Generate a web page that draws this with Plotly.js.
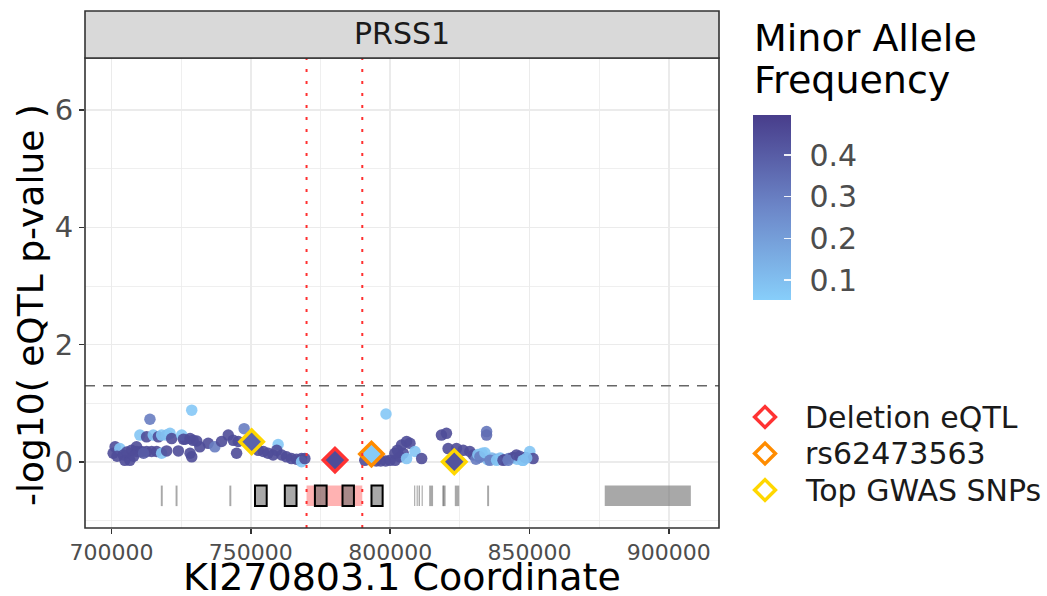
<!DOCTYPE html>
<html>
<head>
<meta charset="utf-8">
<script src="https://cdn.plot.ly/plotly-3.0.1.min.js"></script>
<style>
html,body{margin:0;padding:0;background:#fff;}
#chart{width:1047px;height:596px;}
</style>
</head>
<body>
<div id="chart"></div>
<script>
// ---------------- DATA ----------------
const geneName = "PRSS1";
const snpPos = [700600,701300,703000,704200,704800,706600,707200,709000,709000,710800,
  712600,714400,716200,718000,719800,724000,728200,728800,726400,729300,
  731700,734700,710200,712600,715000,716800,718000,719800,721000,721600,
  725200,725800,728200,730600,713800,728800,702000,705500,708000,711500,
  737100,739500,741900,743700,745500,747600,744900,752700,754500,756200,
  758000,759800,759300,761100,762800,764600,766400,768200,768200,769400,
  790900,795000,796600,798400,800000,801800,803500,804100,804700,805900,
  807100,805900,808900,811300,798500,802600,801700,
  818400,820200,820800,823800,826200,828600,829800,834600,834600,832000,
  833000,835000,836500,838000,839500,841000,842500,844000,845500,846500,
  847500,848500,850100,851300,830800,831500,832200,834000,835800,838200,
  840500,842300,845300,847700,849000];
const snpLogP = [0.15,0.26,0.23,0.12,0.03,0.03,0.20,0.26,0.18,0.18,
  0.18,0.18,0.18,0.15,0.19,0.19,0.15,0.09,0.39,0.37,
  0.26,0.32,0.46,0.43,0.46,0.43,0.46,0.46,0.49,0.40,
  0.46,0.39,0.40,0.36,0.73,0.885,0.10,0.17,0.10,0.15,
  0.26,0.35,0.46,0.37,0.35,0.57,0.15,0.20,0.18,0.15,
  0.12,0.30,0.20,0.12,0.09,0.06,0.05,0.06,0.005,0.06,
  0.03,0.02,0.02,0.02,0.03,0.03,0.09,0.29,0.15,0.35,
  0.32,0.06,0.18,0.06,0.82,0.20,0.15,
  0.46,0.49,0.23,0.23,0.20,0.18,0.12,0.52,0.46,0.08,
  0.15,0.04,0.07,0.05,0.07,0.04,0.06,0.08,0.05,0.10,
  0.03,0.08,0.18,0.06,0.05,0.13,0.09,0.16,0.03,0.03,
  0.03,0.03,0.12,0.03,0.07];
const snpMAF = [0.45,0.45,0.08,0.45,0.45,0.45,0.45,0.45,0.45,0.45,
  0.45,0.45,0.45,0.08,0.45,0.45,0.45,0.45,0.45,0.45,
  0.45,0.45,0.08,0.45,0.08,0.45,0.08,0.10,0.08,0.45,
  0.08,0.45,0.45,0.45,0.30,0.07,0.45,0.45,0.45,0.40,
  0.30,0.45,0.45,0.45,0.45,0.30,0.45,0.45,0.45,0.45,
  0.45,0.07,0.45,0.45,0.45,0.45,0.45,0.45,0.07,0.45,
  0.45,0.45,0.45,0.45,0.45,0.45,0.45,0.45,0.45,0.45,
  0.45,0.08,0.08,0.45,0.07,0.45,0.45,
  0.45,0.45,0.45,0.45,0.45,0.45,0.45,0.32,0.35,0.20,
  0.08,0.10,0.12,0.15,0.10,0.45,0.30,0.45,0.08,0.40,
  0.10,0.45,0.08,0.45,0.30,0.08,0.30,0.08,0.30,0.08,
  0.45,0.30,0.45,0.08,0.10];

const delPos = [780200], delLogP = [0.034], delMAF = [0.45];
const rsPos = [793300], rsLogP = [0.136], rsMAF = [0.06];
const gwasPos = [750300, 823000], gwasLogP = [0.346, 0.005], gwasMAF = [0.38, 0.43];

const pThreshold = 1.30103;               // -log10(0.05)
const deletionStart = 770000, deletionEnd = 790000;
const trackLow = -0.75, trackHigh = -0.4;
const boxedGeneStart = [751500, 762200, 773000, 782900, 793300];
const boxedGeneEnd   = [755700, 766400, 777200, 787000, 797300];
const otherGeneStart = [717700, 723000, 742300, 808600, 809500, 810200, 811300, 814000, 818700, 819000, 823200, 834800, 877000];
const otherGeneEnd   = [718400, 723700, 743000, 809000, 809900, 810700, 811700, 815400, 819400, 819900, 824800, 835500, 907900];

const xTicks = [700000, 750000, 800000, 850000, 900000];
const yTicks = [0, 2, 4, 6];
const mafTicks = [0.1, 0.2, 0.3, 0.4];
const legendNames = ["Deletion eQTL", "rs62473563", "Top GWAS SNPs"];
const legendColors = ["#FF3333", "#FF8C00", "#FFD700"];

// ---------------- LAYOUT GEOMETRY (pixels) ----------------
const W = 1047, H = 596;
const panel = {l: 85, r: 719, t: 58, b: 528};
const px = v => v / W;                 // pixel x -> paper
const py = v => (H - v) / H;           // pixel y -> paper
const FONT = "DejaVu Sans, Liberation Sans, sans-serif";
const cscale = [[0, "#87CEFA"], [0.5, "#6C86C8"], [1, "#483D8B"]];
const cmin = 0.052, cmax = 0.496;

const traces = [];
traces.push({
  type: "scatter", mode: "markers", x: snpPos, y: snpLogP, showlegend: false,
  hoverinfo: "skip", xaxis: "x", yaxis: "y",
  marker: {
    size: 11.5, color: snpMAF, colorscale: cscale, cmin: cmin, cmax: cmax, opacity: 0.9,
    line: {width: 0},
    showscale: true,
    colorbar: {
      x: px(753), xanchor: "left", xref: "paper", xpad: 0, ypad: 0,
      y: py(207.5), yanchor: "middle", yref: "paper",
      thickness: 38, thicknessmode: "pixels", len: 185, lenmode: "pixels",
      outlinewidth: 0, tickvals: mafTicks, ticktext: mafTicks.map(v => "\u2009\u2009" + v.toFixed(1)),
      ticks: "inside", ticklen: 7, tickcolor: "rgba(255,255,255,0.9)", tickwidth: 1.2,
      tickfont: {family: FONT, size: 30, color: "#4D4D4D"},
      title: {text: ""}
    }
  }
});

legendNames.forEach((name, i) => {
  const h = [
    {x: delPos, y: delLogP, m: delMAF},
    {x: rsPos, y: rsLogP, m: rsMAF},
    {x: gwasPos, y: gwasLogP, m: gwasMAF}
  ][i];
  traces.push({
    type: "scatter", mode: "markers", x: h.x, y: h.y, showlegend: false, hoverinfo: "skip",
    name: name, xaxis: "x", yaxis: "y",
    marker: {symbol: "diamond", size: 18, color: h.m, colorscale: cscale, cmin: cmin, cmax: cmax,
      line: {color: legendColors[i], width: 3.5}}
  });
});

// manual legend keys on an invisible pixel-space axis pair
const legendKeyX = 765, legendFirstY = 417, legendStep = 36.5, legendTextX = 805;
traces.push({
  type: "scatter", mode: "markers", xaxis: "x2", yaxis: "y2", showlegend: false, hoverinfo: "skip",
  x: legendNames.map(() => legendKeyX), y: legendNames.map((_, i) => legendFirstY + i * legendStep),
  marker: {symbol: "diamond-open", size: 16, color: legendColors, line: {color: legendColors, width: 3.5}},
  cliponaxis: false
});

const shapes = [];
otherGeneStart.forEach((s, i) => shapes.push({
  type: "rect", xref: "x", yref: "y", x0: s, x1: otherGeneEnd[i], y0: trackLow, y1: trackHigh,
  fillcolor: "rgba(110,110,110,0.6)", line: {width: 0}, layer: "above"
}));
shapes.push({type: "rect", xref: "x", yref: "y", x0: deletionStart, x1: deletionEnd, y0: trackLow, y1: trackHigh,
  fillcolor: "rgba(255,0,0,0.3)", line: {width: 0}, layer: "above"});
boxedGeneStart.forEach((s, i) => shapes.push({
  type: "rect", xref: "x", yref: "y", x0: s, x1: boxedGeneEnd[i], y0: trackLow, y1: trackHigh,
  fillcolor: "rgba(110,110,110,0.6)", line: {width: 2, color: "#000"}, layer: "above"
}));
shapes.push({type: "line", xref: "x domain", yref: "y", x0: 0, x1: 1, y0: pThreshold, y1: pThreshold,
  line: {color: "#666666", width: 1.6, dash: "10px,8px"}, layer: "above"});
[deletionStart, deletionEnd].forEach(v => shapes.push({type: "line", xref: "x", yref: "y domain", x0: v, x1: v, y0: 0, y1: 1,
  line: {color: "#FF3030", width: 2, dash: "3px,9px"}, layer: "above"}));
shapes.push({type: "rect", xref: "x domain", yref: "y domain", x0: 0, x1: 1, y0: 0, y1: 1,
  line: {color: "#333333", width: 1.6}, fillcolor: "rgba(0,0,0,0)", layer: "above"});
shapes.push({type: "rect", xref: "x domain", yref: "y domain", x0: 0, x1: 1, y0: 1, y1: 1 + 47 / (panel.b - panel.t),
  line: {color: "#333333", width: 1.6}, fillcolor: "#D9D9D9", layer: "above"});

const annotations = [
  {text: geneName, xref: "paper", yref: "paper", x: px((panel.l + panel.r) / 2), y: py(34), xanchor: "center", yanchor: "middle",
    showarrow: false, font: {family: FONT, size: 30, color: "#1A1A1A"}},
  {text: "-log10( eQTL p-value )", xref: "paper", yref: "paper", x: px(30), y: py(305),
    xanchor: "center", yanchor: "middle", textangle: -90, showarrow: false,
    font: {family: FONT, size: 36, color: "#000"}},
  {text: "KI270803.1 Coordinate", xref: "paper", yref: "paper", x: px(402), y: py(577),
    xanchor: "center", yanchor: "middle", showarrow: false, font: {family: FONT, size: 38, color: "#000"}},
  {text: "Minor Allele", xref: "paper", yref: "paper", x: px(752), y: py(38),
    xanchor: "left", yanchor: "middle", showarrow: false, font: {family: FONT, size: 38, color: "#000"}},
  {text: "Frequency", xref: "paper", yref: "paper", x: px(752), y: py(80),
    xanchor: "left", yanchor: "middle", showarrow: false, font: {family: FONT, size: 38, color: "#000"}}
];
legendNames.forEach((name, i) => annotations.push({
  text: name, xref: "paper", yref: "paper", x: px(legendTextX - 2), y: py(legendFirstY + i * legendStep),
  xanchor: "left", yanchor: "middle", showarrow: false, font: {family: FONT, size: 30, color: "#1A1A1A"}
}));

const layout = {
  width: W, height: H,
  margin: {l: 0, r: 0, t: 0, b: 0, pad: 0, autoexpand: false},
  paper_bgcolor: "#fff", plot_bgcolor: "rgba(0,0,0,0)",
  font: {family: FONT},
  showlegend: false,
  xaxis: {
    domain: [px(panel.l), px(panel.r)], anchor: "y",
    range: [690500, 918000], tickvals: xTicks, ticktext: xTicks.map(String),
    showgrid: true, gridcolor: "#EBEBEB", gridwidth: 1.5, zeroline: false,
    minor: {dtick: 25000, tick0: 700000, showgrid: true, gridcolor: "#EBEBEB", gridwidth: 0.8},
    ticks: "outside", ticklen: 5, tickwidth: 1.5, tickcolor: "#333",
    tickfont: {family: FONT, size: 22, color: "#4D4D4D"}, showline: false
  },
  yaxis: {
    domain: [py(panel.b), py(panel.t)], anchor: "x",
    range: [-1.123, 6.885], tickvals: yTicks, ticktext: yTicks.map(String),
    showgrid: true, gridcolor: "#EBEBEB", gridwidth: 1.5, zeroline: false,
    minor: {dtick: 1, tick0: 0, showgrid: true, gridcolor: "#EBEBEB", gridwidth: 0.8},
    ticks: "outside", ticklen: 5, tickwidth: 1.5, tickcolor: "#333",
    tickfont: {family: FONT, size: 29, color: "#4D4D4D"}, showline: false
  },
  xaxis2: {domain: [0, 1], range: [0, W], visible: false, anchor: "y2", showgrid: false, zeroline: false},
  yaxis2: {domain: [0, 1], range: [H, 0], visible: false, anchor: "x2", showgrid: false, zeroline: false},
  shapes: shapes,
  annotations: annotations
};

Plotly.newPlot("chart", traces, layout, {staticPlot: true, displayModeBar: false});
</script>
</body>
</html>
